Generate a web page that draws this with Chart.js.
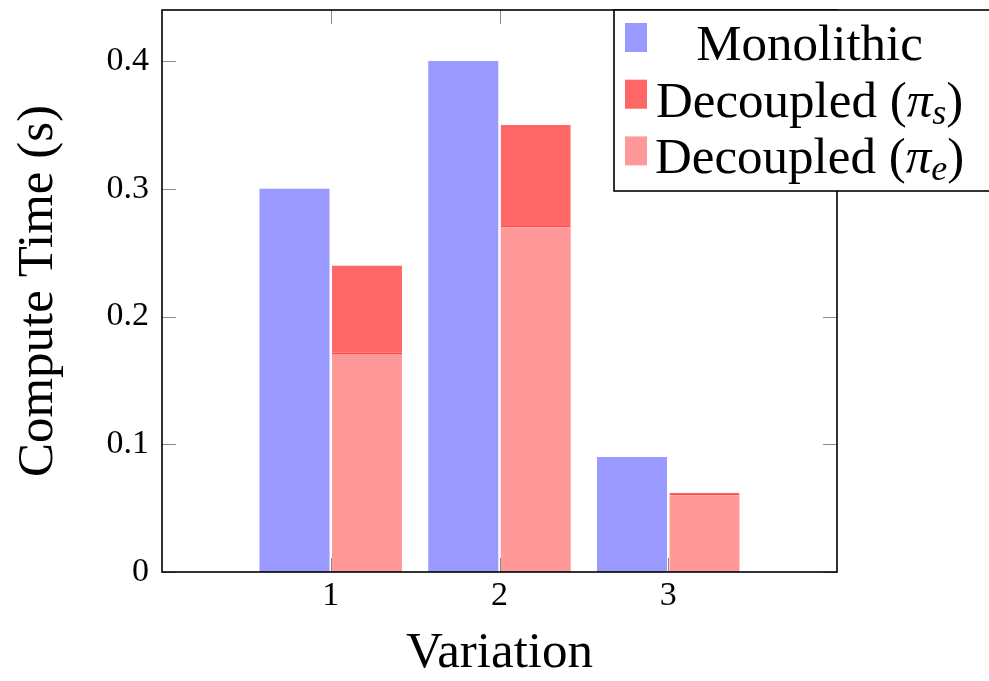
<!DOCTYPE html>
<html>
<head>
<meta charset="utf-8">
<script src="https://cdn.jsdelivr.net/npm/chart.js@4.4.1/dist/chart.umd.min.js"></script>
<style>
    html, body { margin: 0; padding: 0; background: #fff; overflow: hidden; }
    #wrap { width: 989px; height: 681px; position: relative; }
</style>
</head>
<body>
<div id="wrap"><canvas id="grafica"></canvas></div>
<script>
//Datos
const categories = [1, 2, 3];
const monolithic = [0.30, 0.40, 0.09];
const decoupledS = [0.07, 0.08, 0.002];
const decoupledE = [0.17, 0.27, 0.06];
const yTicks = [0, 0.1, 0.2, 0.3, 0.4];
const seriesNames = ['Monolithic', 'Decoupled (πs)', 'Decoupled (πe)'];

const serif = "'Liberation Serif', 'DejaVu Serif', serif";
Chart.defaults.font.family = serif;
Chart.defaults.color = '#000';

//Marco y marcas de los ejes (hacia dentro, como pgfplots)
const marco = {
    id: 'marco',
    afterDatasetsDraw(chart) {
        const { ctx, chartArea: a, scales: { x, y } } = chart;
        ctx.save();
        ctx.strokeStyle = '#8c8c8c';
        ctx.lineWidth = 1;
        ctx.beginPath();
        yTicks.forEach(v => {
            const py = Math.round(y.getPixelForValue(v)) + 0.5;
            ctx.moveTo(a.left, py); ctx.lineTo(a.left + 14, py);
            ctx.moveTo(a.right, py); ctx.lineTo(a.right - 14, py);
        });
        categories.forEach(c => {
            const px = Math.round(x.getPixelForValue(c)) + 0.5;
            ctx.moveTo(px, a.bottom); ctx.lineTo(px, a.bottom - 14);
            ctx.moveTo(px, a.top); ctx.lineTo(px, a.top + 14);
        });
        ctx.stroke();
        ctx.strokeStyle = '#000';
        ctx.lineWidth = 1.6;
        ctx.strokeRect(a.left, a.top, a.width, a.height);
        ctx.restore();
    }
};

//Leyenda con subindices
function piezas(text) {
    const m = text.match(/^(.*)π(\w)\)$/);
    if (!m) return [{ t: text, f: '51px ' + serif, dy: 0 }];
    return [
        { t: m[1], f: '51px ' + serif, dy: 0 },
        { t: 'π', f: 'italic 51px ' + serif, dy: 0 },
        { t: m[2], f: 'italic 36px ' + serif, dy: 7 },
        { t: ')', f: '51px ' + serif, dy: 0 }
    ];
}

const leyenda = {
    id: 'leyenda',
    afterDraw(chart) {
        const { ctx } = chart;
        const sets = chart.data.datasets;
        ctx.save();
        ctx.fillStyle = '#fff';
        ctx.fillRect(614, 10, 400, 181);
        ctx.strokeStyle = '#000';
        ctx.lineWidth = 1.6;
        ctx.strokeRect(614, 10, 400, 181);

        const filas = sets.map(ds => {
            const p = piezas(ds.label);
            let w = 0;
            p.forEach(q => { ctx.font = q.f; q.w = ctx.measureText(q.t).width; w += q.w; });
            return { p, w, color: ds.backgroundColor };
        });
        const maxW = Math.max(...filas.map(f => f.w));
        const centro = 655 + maxW / 2;

        ctx.textBaseline = 'alphabetic';
        filas.forEach((f, i) => {
            const base = 60 + i * 56.7;
            ctx.fillStyle = f.color;
            ctx.fillRect(625, base - 37, 22, 29);
            let x = centro - f.w / 2;
            ctx.fillStyle = '#000';
            f.p.forEach(q => {
                ctx.font = q.f;
                ctx.fillText(q.t, x, base + q.dy);
                x += q.w;
            });
        });
        ctx.restore();
    }
};

const puntos = serie => categories.map((c, i) => ({ x: c, y: serie[i] }));

const grafica = document.getElementById('grafica');

if (grafica) {
    new Chart(grafica, {
        type: 'bar',
        data: {
            datasets: [{
                label: seriesNames[0],
                data: puntos(monolithic),
                backgroundColor: '#9999ff',
                stack: 'mono',
                order: 0
            }, {
                label: seriesNames[1],
                data: puntos(decoupledS),
                backgroundColor: '#ff6666',
                borderColor: '#ff4747',
                borderWidth: { top: 0, left: 0, right: 0, bottom: 2 },
                borderSkipped: false,
                stack: 'dec',
                order: 1
            }, {
                label: seriesNames[2],
                data: puntos(decoupledE),
                backgroundColor: '#ff9999',
                stack: 'dec',
                order: 0
            }]
        },
        options: {
            responsive: true,
            maintainAspectRatio: false,
            animation: false,
            categoryPercentage: 0.859,
            barPercentage: 0.966,
            layout: {
                padding: { top: 10, right: 152, left: 0, bottom: 0 }
            },
            plugins: {
                legend: { display: false },
                tooltip: { enabled: false }
            },
            scales: {
                x: {
                    type: 'linear',
                    min: 0,
                    max: 4,
                    offset: false,
                    grid: { display: false, drawTicks: false, offset: false },
                    border: { display: false },
                    afterBuildTicks: s => { s.ticks = categories.map(v => ({ value: v })); },
                    afterFit: s => { s.height = 109; s.paddingLeft = 0; s.paddingRight = 0; },
                    ticks: {
                        padding: 4,
                        font: { size: 34 },
                        callback: v => String(v)
                    },
                    title: {
                        display: true,
                        text: 'Variation',
                        font: { size: 51, lineHeight: 1 },
                        padding: { top: 0, bottom: 2 }
                    }
                },
                y: {
                    stacked: true,
                    min: 0,
                    max: 0.44,
                    grid: { display: false, drawTicks: false },
                    border: { display: false },
                    afterBuildTicks: s => { s.ticks = yTicks.map(v => ({ value: v })); },
                    afterFit: s => { s.width = 162; s.paddingTop = 0; s.paddingBottom = 0; },
                    ticks: {
                        padding: 13,
                        font: { size: 34 },
                        callback: v => String(v)
                    },
                    title: {
                        display: true,
                        text: 'Compute Time (s)',
                        font: { size: 51, lineHeight: 1 },
                        padding: { top: 13, bottom: 0 }
                    }
                }
            }
        },
        plugins: [marco, leyenda]
    });
}
</script>
</body>
</html>
